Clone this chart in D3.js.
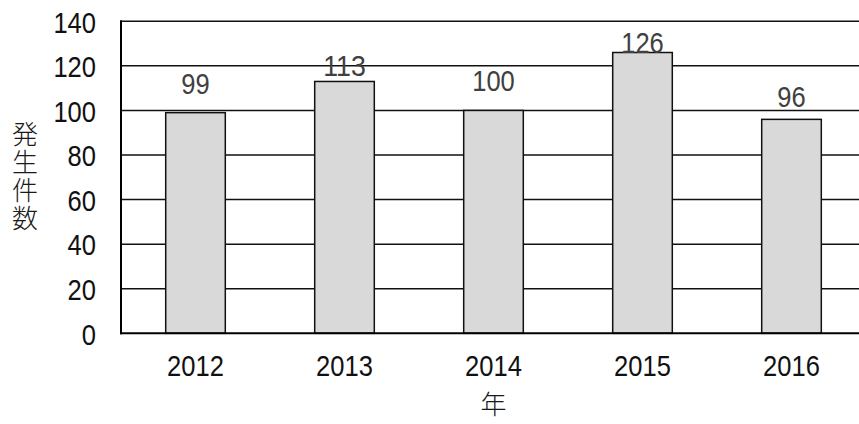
<!DOCTYPE html>
<html>
<head>
<meta charset="utf-8">
<script src="https://cdn.jsdelivr.net/npm/d3@7"></script>
<style>
  body { margin: 0; background: #fff; }
  svg { display: block; }
  .num { font-family: "Liberation Sans", Arial, sans-serif; font-size: 30px; }
  .jp { font-family: "Noto Sans CJK JP", sans-serif; font-size: 26px; font-weight: 300; fill: #1a1a1a; }
</style>
</head>
<body>
<svg id="chart" width="859" height="424"></svg>
<script>
// ----- data -----
var annees = ["2012", "2013", "2014", "2015", "2016"];
var nombres = [99, 113, 100, 126, 96];
var graduations = [0, 20, 40, 60, 80, 100, 120, 140];
var titreY = "発生件数";
var titreX = "年";

// how high the value label sits above each bar (px)
var ecartEtiquette = [19, 5, 19, 0, 12];

var svg = d3.select("#chart");
var gauche = 121, haut = 21.3, bas = 333.3, pas = 149;
var chiffre = 14.2; // narrow digits, width of one digit

function etroit(sel) {
    // squeeze Liberation Sans digits to the narrow look of the original
    sel.attr("textLength", function() { return this.textContent.length * chiffre; })
       .attr("lengthAdjust", "spacingAndGlyphs");
}

var x = d3.scaleBand()
    .domain(annees)
    .range([gauche, gauche + pas * annees.length])
    .paddingInner(0.6)
    .paddingOuter(0.3);

var y = d3.scaleLinear().domain([0, 140]).range([bas, haut]);

// grid lines
svg.append("g")
    .selectAll("line")
    .data(graduations.filter(function(d) { return d > 0; }))
    .enter().append("line")
    .attr("x1", gauche).attr("x2", 859)
    .attr("y1", function(d) { return y(d); })
    .attr("y2", function(d) { return y(d); })
    .attr("stroke", "#111")
    .attr("stroke-width", 1.5);

// bars
svg.append("g")
    .selectAll("rect")
    .data(nombres)
    .enter().append("rect")
    .attr("x", function(d, i) { return x(annees[i]); })
    .attr("y", function(d) { return y(d); })
    .attr("width", x.bandwidth())
    .attr("height", function(d) { return y(0) - y(d); })
    .attr("fill", "#d9d9d9")
    .attr("stroke", "#111")
    .attr("stroke-width", 1.5);

// axes lines
svg.append("line")
    .attr("x1", gauche).attr("x2", gauche)
    .attr("y1", haut - 1).attr("y2", bas + 1)
    .attr("stroke", "#000").attr("stroke-width", 2);
svg.append("line")
    .attr("x1", gauche - 1).attr("x2", 859)
    .attr("y1", bas).attr("y2", bas)
    .attr("stroke", "#000").attr("stroke-width", 2);

// y tick labels
var axeY = d3.axisLeft(y).tickValues(graduations).tickSize(0).tickPadding(0);
var gY = svg.append("g").attr("transform", "translate(96,0)").call(axeY);
gY.attr("font-family", null).attr("font-size", null);
gY.select(".domain").remove();
gY.selectAll("text")
    .attr("class", "num")
    .attr("fill", "#111")
    .attr("dy", "0.36em")
    .call(etroit);

// x tick labels
var axeX = d3.axisBottom(x).tickSize(0).tickPadding(0);
var gX = svg.append("g").attr("transform", "translate(0,376)").call(axeX);
gX.attr("font-family", null).attr("font-size", null);
gX.select(".domain").remove();
gX.selectAll("text")
    .attr("class", "num")
    .attr("fill", "#111")
    .attr("dy", 0)
    .attr("y", 0)
    .call(etroit);

// value labels
svg.append("g")
    .selectAll("text")
    .data(nombres)
    .enter().append("text")
    .attr("class", "num")
    .attr("x", function(d, i) { return x(annees[i]) + x.bandwidth() / 2; })
    .attr("y", function(d, i) { return y(d) - ecartEtiquette[i]; })
    .attr("text-anchor", "middle")
    .attr("fill", "#404040")
    .text(function(d) { return d; })
    .call(etroit);

// axis titles
svg.append("text")
    .attr("class", "jp")
    .attr("x", 25)
    .attr("y", 121)
    .style("writing-mode", "vertical-rl")
    .style("letter-spacing", "2px")
    .text(titreY);

svg.append("text")
    .attr("class", "jp")
    .attr("x", (x.range()[0] + x.range()[1]) / 2)
    .attr("y", 414)
    .attr("text-anchor", "middle")
    .text(titreX);
</script>
</body>
</html>
